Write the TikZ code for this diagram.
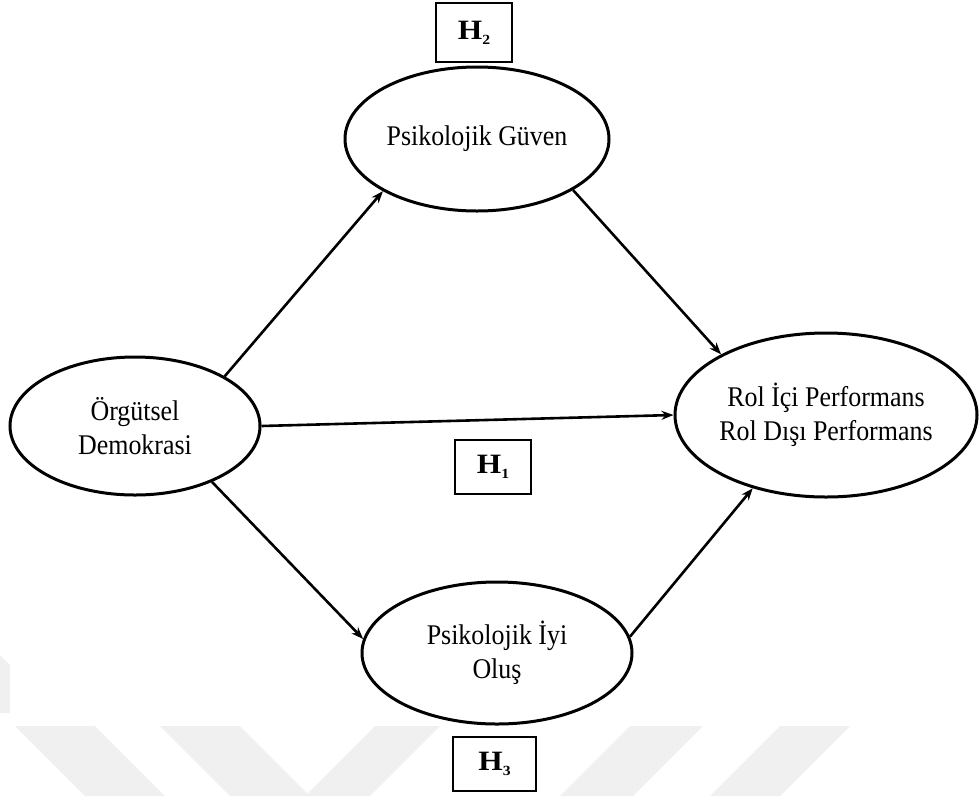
\documentclass[tikz,border=0pt]{standalone}
\usepackage{fontspec}
\setmainfont{Liberation Serif}[FakeStretch=0.91]
\newfontfamily\hfont{Liberation Serif}[FakeStretch=1.12]
\usetikzlibrary{shapes.geometric,arrows.meta}
\newcommand{\hyplabel}[1]{\textbf{H}\raisebox{-5pt}{\fontsize{14}{14}\selectfont\textbf{#1}}}
\begin{document}
\begin{tikzpicture}[x=1pt,y=-1pt,
  var/.style={ellipse,draw,line width=3pt,inner sep=0pt,align=center,
    font=\fontsize{28.5}{34}\selectfont},
  hyp/.style={draw,line width=2.3pt,inner sep=0pt,
    font=\hfont\fontsize{28}{28}\selectfont},
  arr/.style={line width=2.6pt,-{Stealth[length=12pt,width=9pt]}},
  wm/.style={fill=black!6,draw=none}]
\useasboundingbox (0,0) rectangle (980,796);
% faint watermark
\begin{scope}
  \clip (0,726) rectangle (980,796);
  \fill[wm] (15,726) -- (95,726) -- (165,796) -- (85,796) -- cycle;
  \fill[wm] (160,726) -- (240,726) -- (310,796) -- (230,796) -- cycle;
  \fill[wm] (375,726) -- (440,726) -- (370,796) -- (305,796) -- cycle;
  \fill[wm] (630,726) -- (703,726) -- (633,796) -- (560,796) -- cycle;
  \fill[wm] (780,726) -- (850,726) -- (780,796) -- (710,796) -- cycle;
\end{scope}
\fill[wm] (0,655) -- (10,665) -- (10,713) -- (0,713) -- cycle;

% variables
\node[var,minimum width=250pt,minimum height=138pt] (od) at (135,426) {Örgütsel\\Demokrasi};
\node[var,minimum width=264pt,minimum height=144pt] (pg) at (477,139) {Psikolojik Güven};
\node[var,minimum width=302pt,minimum height=164pt] (rol) at (826,415) {Rol İçi Performans\\Rol Dışı Performans};
\node[var,minimum width=270pt,minimum height=142pt] (pio) at (497,653) {Psikolojik İyi\\Oluş};

% hypothesis boxes
\node[hyp,minimum width=76pt,minimum height=59pt] (h2) at (474,32.5) {\hyplabel{2}};
\node[hyp,minimum width=76pt,minimum height=54pt] (h1) at (493,467) {\hyplabel{1}};
\node[hyp,minimum width=83pt,minimum height=54pt] (h3) at (494.5,764) {\hyplabel{3}};

% paths
\draw[arr] (od.29) -- (pg.209);
\draw[arr] (pg.-28) -- (rol.150);
\draw[arr] (od.0) -- (rol.180);
\draw[arr] (od.-36) -- (pio.174);
\draw[arr] (pio.7) -- (rol.225);
\end{tikzpicture}
\end{document}
